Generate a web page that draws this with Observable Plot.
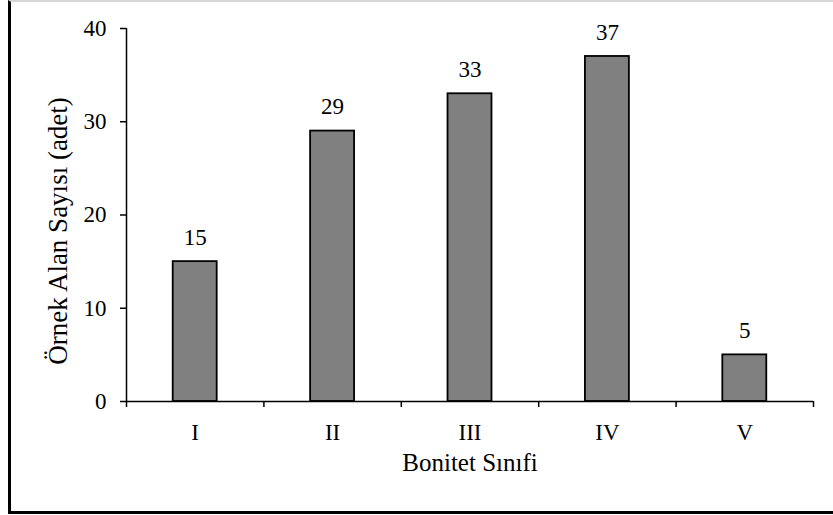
<!DOCTYPE html>
<html>
<head>
<meta charset="utf-8">
<script src="https://cdn.jsdelivr.net/npm/d3@7"></script>
<script src="https://cdn.jsdelivr.net/npm/@observablehq/plot@0.6"></script>
<style>
  html, body { margin: 0; padding: 0; background: #fff; }
  #wrap { position: relative; width: 833px; height: 515px; overflow: hidden; }
  #frame { position: absolute; left: 8px; top: 0; width: 900px; height: 509px;
           border-left: 3px solid #000; border-bottom: 3px solid #000; border-top: 2px solid #d6d6d6; }
  #chart { position: absolute; left: 0; top: 0; }
  #chart svg, #chart svg text { font-family: "Liberation Serif", "Times New Roman", serif !important; }
</style>
</head>
<body>
<div id="wrap"><div id="frame"></div><div id="chart"></div></div>
<script>
const categories = ["I", "II", "III", "IV", "V"];
const values = [15, 29, 33, 37, 5];
const yTicks = [0, 10, 20, 30, 40];
const xTitle = "Bonitet Sınıfi";
const yTitle = "Örnek Alan Sayısı (adet)";
const barWidth = 0.32;

const data = categories.map((c, i) => ({ c, i, v: values[i] }));

const chart = Plot.plot({
  width: 833,
  height: 515,
  marginLeft: 126,
  marginRight: 20,
  marginTop: 28,
  marginBottom: 114,
  style: { fontFamily: "Liberation Serif", fontSize: "23px", color: "#000", background: "transparent" },
  x: { domain: [0, categories.length] },
  y: { domain: [0, 40] },
  marks: [
    Plot.rectY(data, {
      x1: d => d.i + (1 - barWidth) / 2,
      x2: d => d.i + (1 + barWidth) / 2,
      y: "v",
      fill: "#808080",
      stroke: "#000",
      strokeWidth: 1.8
    }),
    Plot.ruleX([0], { stroke: "#000", strokeWidth: 1.5 }),
    Plot.ruleY([0], { stroke: "#000", strokeWidth: 1.5 }),
    Plot.axisY({ ticks: yTicks, tickSize: 6, tickPadding: 14, label: null, strokeWidth: 1.5, fontSize: 23 }),
    Plot.axisX({ ticks: d3.range(categories.length + 1), tickSize: 6, tickFormat: () => "", label: null, strokeWidth: 1.5 }),
    Plot.axisX({ ticks: categories.map((c, i) => i + 0.5), tickSize: 0, tickPadding: 22, fontSize: 23,
                 tickFormat: v => categories[Math.floor(v)], label: null }),
    Plot.text(data, { x: d => d.i + 0.5, y: "v", text: d => String(d.v), dy: -24, lineAnchor: "middle", fontSize: 23 }),
    Plot.text([xTitle], { frameAnchor: "bottom", dy: 69, fontSize: 25 }),
    Plot.text([yTitle], { frameAnchor: "left", textAnchor: "middle", rotate: -90, dx: -68, dy: 16, fontSize: 27 })
  ]
});
document.getElementById("chart").appendChild(chart);
</script>
</body>
</html>
